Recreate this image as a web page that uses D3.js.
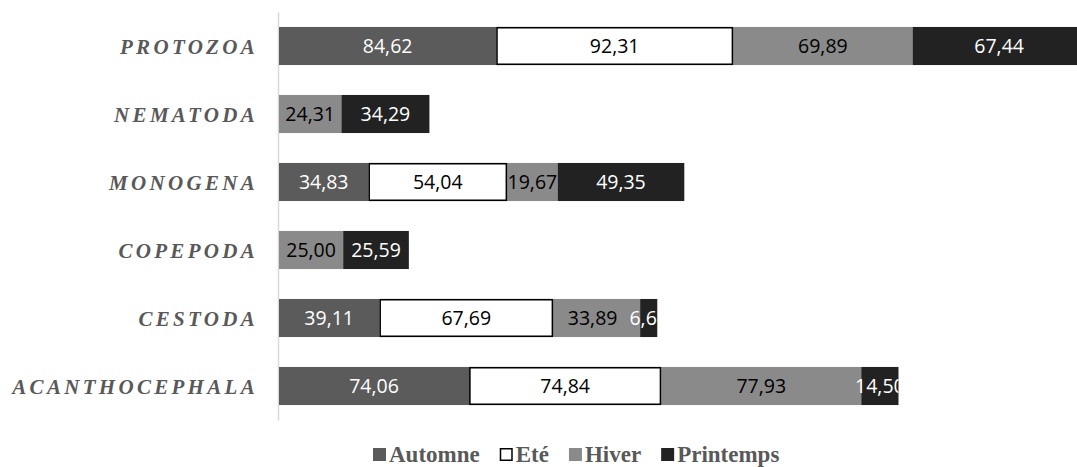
<!DOCTYPE html>
<html><head><meta charset="utf-8">
<script src="https://cdn.jsdelivr.net/npm/d3@7"></script>
<style>body{margin:0;background:#fff;} svg{display:block}</style>
</head><body><svg id="chart" width="1077" height="467"></svg>
<script>
// ---- data ----
const categories = ["PROTOZOA","NEMATODA","MONOGENA","COPEPODA","CESTODA","ACANTHOCEPHALA"];
const seriesNames = ["Automne","Eté","Hiver","Printemps"];
const automne   = [84.62, 0,     34.83, 0,     39.11, 74.06];
const ete       = [92.31, 0,     54.04, 0,     67.69, 74.84];
const hiver     = [69.89, 24.31, 19.67, 25.00, 33.89, 77.93];
const printemps = [67.44, 34.29, 49.35, 25.59, 6.67,  14.50];

// ---- styles ----
const fills = {"Automne":"#5b5b5b","Eté":"#ffffff","Hiver":"#8a8a8a","Printemps":"#222222"};
const labelColors = {"Automne":"#ffffff","Eté":"#000000","Hiver":"#000000","Printemps":"#ffffff"};

const rows = categories.map((c,i)=>({cat:c, "Automne":automne[i], "Eté":ete[i], "Hiver":hiver[i], "Printemps":printemps[i]}));
const stacked = d3.stack().keys(seriesNames)(rows);

const svg = d3.select("#chart");
const x = d3.scaleLinear().domain([0,350]).range([279, 279 + 350*2.567]);
const y = d3.scaleBand().domain(categories).range([12,420]).paddingInner(0.44).paddingOuter(0.22);

// axis
const axis = svg.append("g").attr("transform","translate(278,0)")
  .call(d3.axisLeft(y).tickSize(0).tickPadding(20));
axis.select(".domain").attr("stroke","#d9d9d9").attr("stroke-width",1.5);
axis.selectAll(".tick text")
  .attr("fill","#595959")
  .style("font-family","'Liberation Serif','Times New Roman',serif")
  .style("font-weight","bold").style("font-style","italic")
  .style("font-size","21px").style("letter-spacing","3.3px")
  .attr("dy","0.36em");

// clip paths per row (labels clipped to their stacked bar)
const defs = svg.append("defs");
rows.forEach((r,i)=>{
  const total = seriesNames.reduce((s,k)=>s+r[k],0);
  defs.append("clipPath").attr("id","clip"+i).append("rect")
    .attr("x", x(0)).attr("y", y(r.cat)-5)
    .attr("width", x(total)-x(0)).attr("height", y.bandwidth()+10);
});

const fmt = v => d3.format(".2f")(v).replace(".", ",");

function drawRects(layer, filterFn){
  stacked.filter(s=>filterFn(s.key)).forEach(s=>{
    const isEte = s.key==="Eté";
    layer.append("g").selectAll("rect").data(s.filter(d=>d[1]-d[0]>0)).join("rect")
      .attr("x", d=> x(d[0]) + (isEte?0.75:0))
      .attr("y", d=> y(d.data.cat) + (isEte?0.75:0))
      .attr("width", d=> x(d[1])-x(d[0]) - (isEte?1.5:0))
      .attr("height", y.bandwidth() - (isEte?1.5:0))
      .attr("fill", fills[s.key])
      .attr("stroke", isEte? "#000":"none")
      .attr("stroke-width", isEte?1.6:0);
  });
}

// build label info
const labelFont = "'Open Sans', 'Noto Sans', sans-serif";
const labelSize = "19.5px";
const labels = [];
stacked.forEach(s=>{
  s.forEach((d,i)=>{
    if (d[1]-d[0] > 0) labels.push({key:s.key, row:i, cat:d.data.cat, v:d[1]-d[0], cx:(x(d[0])+x(d[1]))/2});
  });
});
// measure
const meas = svg.append("text").style("font-family",labelFont).style("font-size",labelSize);
labels.forEach(l=>{ meas.text(fmt(l.v)); l.w = meas.node().getComputedTextLength(); });
meas.remove();
// simple overlap resolution (right to left)
const gap = 12;
categories.forEach((c,i)=>{
  const ls = labels.filter(l=>l.row===i).sort((a,b)=>a.cx-b.cx);
  for (let k=ls.length-2;k>=0;k--){
    const nextLeft = ls[k+1].cx - ls[k+1].w/2;
    if (ls[k].cx + ls[k].w/2 + gap > nextLeft) ls[k].cx = nextLeft - gap - ls[k].w/2;
  }
});

function drawLabels(layer, filterFn){
  layer.selectAll("text").data(labels.filter(l=>filterFn(l.key))).join("text")
    .attr("clip-path", l=>"url(#clip"+l.row+")")
    .attr("x", l=>l.cx).attr("y", l=>y(l.cat)+y.bandwidth()/2)
    .attr("dy","0.36em").attr("text-anchor","middle")
    .attr("fill", l=>labelColors[l.key])
    .style("font-family",labelFont).style("font-size",labelSize)
    .text(l=>fmt(l.v));
}

drawRects(svg.append("g"), k=>k!=="Eté");
drawLabels(svg.append("g"), k=>k!=="Eté");
drawRects(svg.append("g"), k=>k==="Eté");
drawLabels(svg.append("g"), k=>k==="Eté");

// legend
const legend = svg.append("g");
let lx = 373;
const ly = 448;
seriesNames.forEach(k=>{
  legend.append("rect").attr("x", lx+ (k==="Eté"?0.75:0)).attr("y", ly+(k==="Eté"?0.75:0))
    .attr("width", k==="Eté"?11.5:13).attr("height", k==="Eté"?11.5:13)
    .attr("fill", fills[k]).attr("stroke", k==="Eté"?"#000":"none").attr("stroke-width",1.5);
  const t = legend.append("text").attr("x", lx+16).attr("y", ly+14)
    .attr("fill","#595959")
    .style("font-family","'Liberation Serif','Times New Roman',serif")
    .style("font-weight","bold").style("font-size","23px")
    .text(k);
  lx += 16 + t.node().getComputedTextLength() + 20;
});
</script></body></html>
